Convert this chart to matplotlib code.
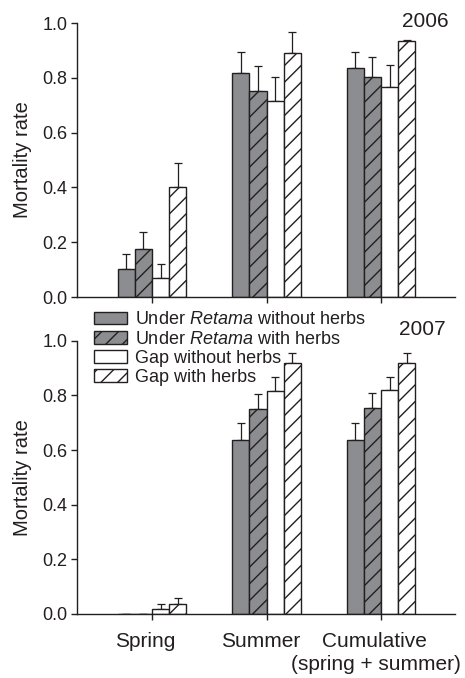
import matplotlib.pyplot as plt
import matplotlib.transforms as mtransforms
import numpy as np

plt.rcParams['font.family'] = ['Liberation Sans', 'DejaVu Sans']
plt.rcParams['mathtext.fontset'] = 'custom'
plt.rcParams['mathtext.rm'] = 'Liberation Sans'
plt.rcParams['mathtext.it'] = 'Liberation Sans:italic'
plt.rcParams['hatch.linewidth'] = 1.0

# data
seasons = ['Spring', 'Summer', 'Cumulative']
season_note = '(spring + summer)'
treatments = ['Under $\\it{Retama}$ without herbs', 'Under $\\it{Retama}$ with herbs',
              'Gap without herbs', 'Gap with herbs']

mort_2006 = [[0.102, 0.817, 0.836],
             [0.175, 0.752, 0.802],
             [0.068, 0.717, 0.766],
             [0.400, 0.890, 0.936]]
top_2006 = [[0.157, 0.893, 0.894],
            [0.236, 0.842, 0.876],
            [0.120, 0.803, 0.847],
            [0.491, 0.967, 0.939]]

mort_2007 = [[0.0, 0.635, 0.635],
             [0.0, 0.750, 0.752],
             [0.017, 0.817, 0.820],
             [0.035, 0.917, 0.920]]
top_2007 = [[0.0, 0.698, 0.698],
            [0.0, 0.805, 0.807],
            [0.035, 0.866, 0.868],
            [0.057, 0.954, 0.956]]

grey = '#8c8d90'
ink = '#231f20'
faces = [grey, grey, 'white', 'white']
hatches = [None, '//', None, '//']

fig = plt.figure(figsize=(4.65, 6.78), dpi=100)
ax1 = fig.add_axes([0.1656, 0.5619, 0.8129, 0.4041])
ax2 = fig.add_axes([0.1656, 0.0944, 0.8129, 0.4031])

x = np.arange(1, 4)
w = 0.15


def draw(ax, vals, tops, year, yx, yy):
    handles = []
    for i in range(4):
        pos = x + (i - 1.5) * w
        v = np.array(vals[i])
        err = np.array(tops[i]) - v
        b = ax.bar(pos, v, w, color=faces[i], edgecolor=ink, linewidth=1.0,
                   hatch=hatches[i], label=treatments[i], zorder=2)
        ax.errorbar(pos, v, yerr=[np.zeros_like(err), err], fmt='none',
                    ecolor=ink, elinewidth=0.9, capsize=3, capthick=0.9, zorder=1)
        handles.append(b)
    ax.set_xlim(0.345, 3.646)
    ax.set_ylim(0, 1.0)
    ax.set_yticks([0, 0.2, 0.4, 0.6, 0.8, 1.0])
    ax.set_yticklabels(['0.0', '0.2', '0.4', '0.6', '0.8', '1.0'])
    ax.set_xticks(x)
    ax.set_xticklabels(['', '', ''])
    for s in ['top', 'right']:
        ax.spines[s].set_visible(False)
    for s in ['left', 'bottom']:
        ax.spines[s].set_color(ink)
        ax.spines[s].set_linewidth(1.0)
    ax.tick_params(axis='both', direction='out', length=4, width=1.0,
                   colors=ink, labelsize=13, pad=3)
    ax.set_ylabel('Mortality rate', fontsize=14.5, color=ink, labelpad=7)
    ax.text(yx, yy, year, transform=ax.transAxes, ha='right', va='baseline',
            fontsize=15, color=ink)
    return handles


draw(ax1, mort_2006, top_2006, '2006', 0.984, 0.985)
handles = draw(ax2, mort_2007, top_2007, '2007', 0.974, 1.021)

# season labels sit a little left of the group ticks, as in the original
ax2.set_xticks(x - 0.055, minor=True)
ax2.set_xticklabels(seasons, minor=True, fontsize=15, color=ink)
ax2.tick_params(axis='x', which='minor', length=0, pad=13)
ax2.text(x[2] - 0.045, -0.205, season_note,
         transform=mtransforms.blended_transform_factory(ax2.transData, ax2.transAxes),
         ha='center', va='baseline', fontsize=15, color=ink)

ax2.legend(handles=handles, loc='upper left', bbox_to_anchor=(0.02, 1.14),
           frameon=False, fontsize=13, handlelength=1.85, handleheight=0.7,
           handletextpad=0.45, labelspacing=0.12, borderpad=0, labelcolor=ink)

fig.savefig('out.png', dpi=100)
